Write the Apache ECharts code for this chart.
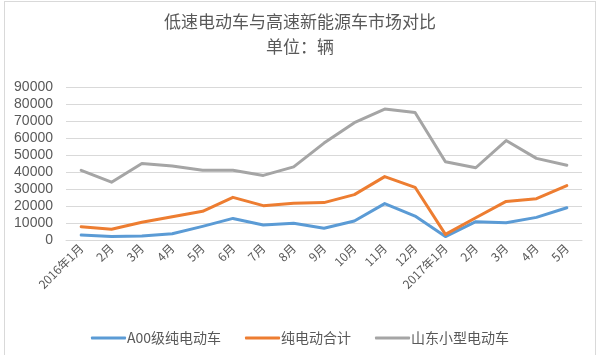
<!DOCTYPE html>
<html><head><meta charset="utf-8">
<script src="https://cdn.jsdelivr.net/npm/echarts@6/dist/echarts.min.js"></script>
<style>
html,body{margin:0;padding:0;background:#fff;}
#frame{position:absolute;left:4px;top:1px;width:592px;height:360px;border:1px solid #d9d9d9;border-bottom:none;box-sizing:border-box;}
#c{position:absolute;left:0;top:0;width:600px;height:355px;}
</style></head>
<body>
<div id="frame"></div>
<div id="c"></div>
<script>
const categories = ['2016年1月','2月','3月','4月','5月','6月','7月','8月','9月','10月','11月','12月','2017年1月','2月','3月','4月','5月'];
const a00 = [2900,2000,2300,3700,8000,12700,8800,9800,6900,11200,21400,14100,2000,10800,10200,13300,19000];
const pureEV = [7800,6300,10400,13700,16900,25100,20200,21600,22000,26700,37300,31000,3300,13100,22700,24300,32000];
const shandong = [41000,34000,45000,43500,41000,41000,38000,43000,57000,69000,77000,75000,46000,42500,58500,48000,44000];
const seriesNames = ['A00级纯电动车','纯电动合计','山东小型电动车'];
const titleText = '低速电动车与高速新能源车市场对比';
const subText = '单位：辆';

const font = '"Noto Sans CJK SC", "Noto Sans", sans-serif';
const chart = echarts.init(document.getElementById('c'), null, {renderer:'canvas'});
const mk = (name, data, color) => ({
  name, type:'line', data, symbol:'none', smooth:false,
  lineStyle:{width:3, color, cap:'round', join:'round'}, itemStyle:{color}
});
chart.setOption({
  animation:false,
  backgroundColor:'transparent',
  title:{
    text: titleText, subtext: subText, left:'center', top:8, itemGap:8,
    textStyle:{fontFamily:font, fontSize:17, fontWeight:'normal', color:'#595959'},
    subtextStyle:{fontFamily:font, fontSize:17, color:'#595959'}
  },
  legend:{
    bottom:5, left:'center', itemWidth:35, itemHeight:3, itemGap:24,
    icon:'roundRect',
    textStyle:{fontFamily:font, fontSize:14, color:'#595959', padding:[0,0,0,-4]},
    data: seriesNames
  },
  grid:{left:66, right:18, top:87, bottom:115},
  xAxis:{
    type:'category', data:categories, boundaryGap:true,
    axisLine:{lineStyle:{color:'#d9d9d9'}}, axisTick:{show:false},
    axisLabel:{rotate:45, interval:0, fontFamily:font, fontSize:12, color:'#595959', margin:6}
  },
  yAxis:{
    type:'value', min:0, max:90000, interval:10000,
    axisLine:{show:false}, axisTick:{show:false},
    splitLine:{lineStyle:{color:'#d9d9d9', width:1}},
    axisLabel:{fontFamily:'"Liberation Sans", Arial, sans-serif', fontSize:14, color:'#595959', margin:13,
      formatter: v => String(v)}
  },
  series:[
    mk(seriesNames[0], a00, '#5B9BD5'),
    mk(seriesNames[1], pureEV, '#ED7D31'),
    mk(seriesNames[2], shandong, '#A5A5A5')
  ]
});
</script>
</body></html>
